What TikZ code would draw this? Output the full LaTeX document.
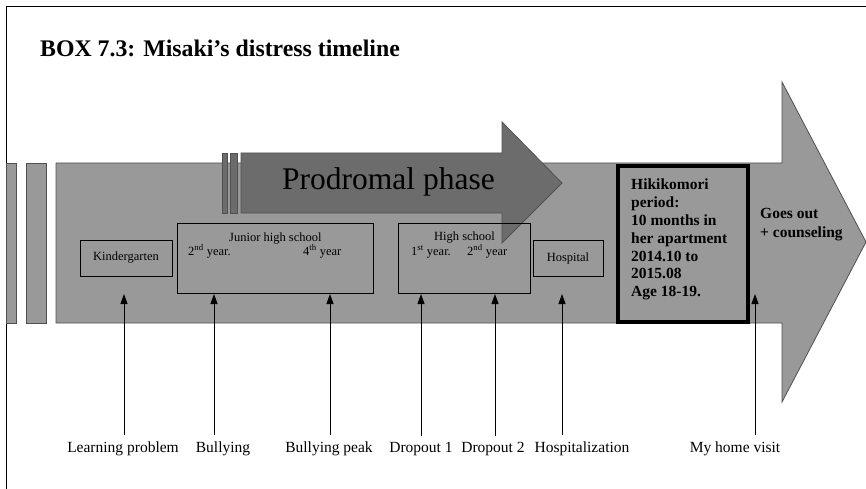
\documentclass[tikz,border=0pt]{standalone}
\usepackage{fontspec}
\setmainfont{Liberation Serif}
\usepackage{tikz}
\usetikzlibrary{arrows.meta}

\definecolor{bandgray}{HTML}{999999}
\definecolor{phasegray}{HTML}{6C6C6C}
\definecolor{edgegray}{HTML}{505050}

\begin{document}
\begin{tikzpicture}[x=1pt, y=-1pt,
    band/.style={fill=bandgray, draw=edgegray, line width=0.8pt},
    phase/.style={fill=phasegray, draw=edgegray, line width=0.8pt},
    stagebox/.style={draw=black, line width=1pt, inner sep=0pt, font=\fontsize{12.5}{15}\selectfont},
    boxtext/.style={inner sep=0pt, anchor=base west, font=\fontsize{12.5}{15}\selectfont},
    event/.style={inner sep=0pt, anchor=base, font=\fontsize{15.5}{18}\selectfont},
    uparrow/.style={-{Triangle[width=7pt, length=10pt]}, line width=1pt}]
        \useasboundingbox (0,0) rectangle (866,489);
        \draw[line width=1pt] (6,489) -- (6,7) -- (866,7);
        \node[inner sep=0pt, anchor=base west, font=\fontsize{23.8}{28}\selectfont\bfseries] (title) at (40,57) {BOX 7.3: Misaki’s distress timeline};

        % timeline band
        \filldraw[band] (6,163) rectangle (16,323);
        \filldraw[band] (26,163) rectangle (46,323);
        \filldraw[band] (56,163) -- (782,163) -- (782,82) -- (866,242) -- (782,402) -- (782,323) -- (56,323) -- cycle;

        % prodromal phase
        \filldraw[phase] (222,153) rectangle (227,213);
        \filldraw[phase] (230,153) rectangle (237,213);
        \filldraw[phase] (241,153) -- (502,153) -- (502,122) -- (562,183) -- (502,243) -- (502,213) -- (241,213) -- cycle;
        \node[inner sep=0pt, anchor=base west, font=\fontsize{31.5}{36}\selectfont] (prodromal) at (282,189) {Prodromal phase};

        % school and hospital boxes
        \node[stagebox, minimum width=92pt, minimum height=36pt] (kg) at (126,258) {Kindergarten};
        \node[stagebox, minimum width=196pt, minimum height=70pt] (jhs) at (275,258) {};
        \node[boxtext] at (229,241) {Junior high school};
        \node[boxtext] at (188,255) {2\textsuperscript{nd} year.};
        \node[boxtext] at (303,255) {4\textsuperscript{th} year};
        \node[stagebox, minimum width=132pt, minimum height=70pt] (hs) at (464,258) {};
        \node[boxtext] at (434,240) {High school};
        \node[boxtext] at (411,255) {1\textsuperscript{st} year.};
        \node[boxtext] at (467,255) {2\textsuperscript{nd} year};
        \node[stagebox, minimum width=70pt, minimum height=36pt] (hosp) at (568,258) {Hospital};

        % hikikomori period
        \node[draw=black, line width=4pt, fill=bandgray, minimum width=130pt, minimum height=156pt, inner sep=0pt] (hiki) at (683,244) {};
        \node[inner sep=0pt, anchor=north west, align=left, font=\fontsize{15.5}{17.8}\selectfont\bfseries] (hikitext) at (631,179) {Hikikomori\\period:\\10 months in\\her apartment\\2014.10 to\\2015.08\\Age 18-19.};
        \node[inner sep=0pt, anchor=north west, align=left, font=\fontsize{15.5}{19}\selectfont\bfseries] (goesout) at (760,208) {Goes out\\+ counseling};

        % events
        \coordinate (t1) at (124,294);
        \coordinate (t2) at (214,294);
        \coordinate (t3) at (330,294);
        \coordinate (t4) at (421,294);
        \coordinate (t5) at (495,294);
        \coordinate (t6) at (562,294);
        \coordinate (t7) at (755,294);
        \node[event] (e1) at (123,452) {Learning problem};
        \node[event] (e2) at (223,452) {Bullying};
        \node[event] (e3) at (329,452) {Bullying peak};
        \node[event] (e4) at (421,452) {Dropout 1};
        \node[event] (e5) at (493,452) {Dropout 2};
        \node[event] (e6) at (582,452) {Hospitalization};
        \node[event] (e7) at (735,452) {My home visit};
        \draw[uparrow] (e1.north -| t1) ++(0,-6) -- (t1);
        \draw[uparrow] (e2.north -| t2) ++(0,-6) -- (t2);
        \draw[uparrow] (e3.north -| t3) ++(0,-6) -- (t3);
        \draw[uparrow] (e4.north -| t4) ++(0,-6) -- (t4);
        \draw[uparrow] (e5.north -| t5) ++(0,-6) -- (t5);
        \draw[uparrow] (e6.north -| t6) ++(0,-6) -- (t6);
        \draw[uparrow] (e7.north -| t7) ++(0,-6) -- (t7);
    \end{tikzpicture}
\end{document}
